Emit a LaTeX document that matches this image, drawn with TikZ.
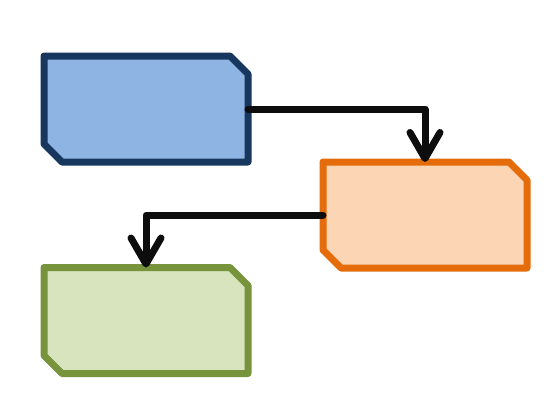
\documentclass[tikz,border=0pt]{standalone}
\usetikzlibrary{arrows.meta,calc}
\definecolor{blueF}{HTML}{8EB4E3}
\definecolor{blueD}{HTML}{17375E}
\definecolor{orangeF}{HTML}{FCD5B5}
\definecolor{orangeD}{HTML}{E46C0A}
\definecolor{greenF}{HTML}{D7E4BD}
\definecolor{greenD}{HTML}{77933C}
\definecolor{connC}{HTML}{0D0D0D}
\tikzset{
  boxnode/.style={rectangle, draw=none, minimum width=204pt, minimum height=106pt, inner sep=0pt, outer sep=0pt},
  chamfer/.style={line width=7pt, line join=round},
  conn/.style={draw=connC, line width=7pt, line cap=round, line join=round,
    -{Straight Barb[round, length=26pt, width=30pt]}},
}
\newcommand{\chamferbox}[3]{%
  \draw[chamfer, draw=#2, fill=#3] (#1.north west) -- ([xshift=-18pt]#1.north east) -- ([yshift=-18pt]#1.north east) -- (#1.south east) -- ([xshift=18pt]#1.south west) -- ([yshift=18pt]#1.south west) -- cycle;}
\begin{document}
\begin{tikzpicture}[x=1pt,y=-1pt]
\useasboundingbox[fill=white] (0,0) rectangle (560,410);
\node[boxnode] (a) at (146,109) {};
\node[boxnode] (b) at (425,215) {};
\node[boxnode] (c) at (146,320.5) {};
\chamferbox{a}{blueD}{blueF}
\chamferbox{b}{orangeD}{orangeF}
\chamferbox{c}{greenD}{greenF}
\draw[conn] (a.east) -| (b.north);
\draw[conn] (b.west) -| (c.north);
\end{tikzpicture}
\end{document}
